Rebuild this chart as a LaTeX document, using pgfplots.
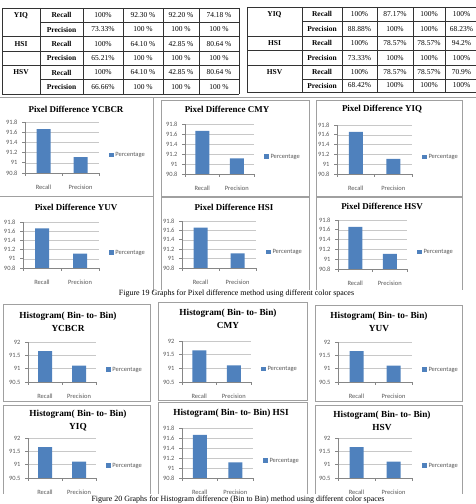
\documentclass[border=0pt]{standalone}
\usepackage{pgfplots}
\pgfplotsset{compat=1.18}
\usepackage{pgfplotstable}
\usepackage{fontspec}
\setmainfont{Liberation Serif}
\newfontfamily\carlito{Carlito}
\definecolor{barblue}{HTML}{4F81BD}
\definecolor{axgray}{HTML}{868686}
\definecolor{gridgray}{HTML}{C8C8C8}
\definecolor{lblgray}{HTML}{595959}
\definecolor{panelgray}{HTML}{A0A0A0}

\pgfplotstableread{
x y
0 91.66
1 91.11
}\prdata

\pgfplotsset{
  mini/.style={
    scale only axis, anchor=south west,
    xmin=-0.5, xmax=1.5,
    axis lines*=left,
    axis line style={draw=axgray, line width=0.6bp},
    tick align=outside,
    major tick length=3bp,
    xtick={0,1}, xticklabels={Recall,Precision},
    xtick style={draw=none},
    extra x ticks={-0.5,0.5,1.5},
    extra x tick labels={},
    extra x tick style={xtick style={draw=axgray, line width=0.6bp}, grid=none},
    ytick style={draw=axgray, line width=0.6bp},
    ymajorgrids, grid style={draw=gridgray, line width=0.5bp},
    ticklabel style={font=\carlito\fontsize{6.5}{7}\selectfont, text=lblgray},
    xticklabel style={yshift=-5.5bp},
    yticklabel style={xshift=-1bp},
    ybar, bar width=14bp,
    legend style={draw=none, fill=none, inner sep=0pt, outer sep=0pt,
      at={(1,0.5)}, anchor=west, xshift=10bp, yshift=-8bp,
      font=\carlito\fontsize{6.5}{7}\selectfont, text=lblgray},
    legend image code/.code={\fill[barblue] (0bp,-2bp) rectangle (4.5bp,2.5bp);},
  },
  pixr/.style={ymin=90.8, ymax=91.8, ytick={90.8,91,91.2,91.4,91.6,91.8},
    yticklabels={90.8,91,91.2,91.4,91.6,91.8}},
  histr/.style={ymin=90.5, ymax=92, ytick={90.5,91,91.5,92},
    yticklabels={90.5,91,91.5,92}},
}
\newcommand\bars{\addplot[fill=barblue, draw=none] table[x=x,y=y] {\prdata};\addlegendentry{Percentage}}

\begin{document}
\begin{tikzpicture}[x=1bp,y=1bp]
\useasboundingbox (0,0) rectangle (476,504);
% ---------------- tables ----------------
\begin{scope}[line width=0.9bp, draw=black!80]
% left table
\foreach \yy in {8,51,94} \draw (2,504-\yy) -- (239,504-\yy);
\foreach \yy in {22.3,36.6,65.3,79.6} \draw (40,504-\yy) -- (239,504-\yy);
\draw (2,504-36.6) -- (40,504-36.6);
\draw (2,504-65.3) -- (40,504-65.3);
\foreach \xx in {2,40,83,123,163,199,239} \draw (\xx,504-8) -- (\xx,504-94);
% right table
\foreach \yy in {7,50.5,92} \draw (247,504-\yy) -- (478,504-\yy);
\foreach \yy in {21.5,36,65,79} \draw (302,504-\yy) -- (478,504-\yy);
\draw (247,504-36) -- (302,504-36);
\draw (247,504-65) -- (302,504-65);
\foreach \xx in {247,302,342,377,413,445,477} \draw (\xx,504-7) -- (\xx,504-92);
\end{scope}
\begin{scope}[every node/.style={font=\fontsize{7.5}{8}\selectfont, inner sep=0pt}]
% left table text
\node[font=\fontsize{7.5}{8}\selectfont\bfseries] at (21,504-15.2) {YIQ};
\node[font=\fontsize{7.5}{8}\selectfont\bfseries] at (21,504-43.8) {HSI};
\node[font=\fontsize{7.5}{8}\selectfont\bfseries] at (21,504-72.5) {HSV};
\foreach \yy/\lab in {15.2/Recall,29.5/Precision,43.8/Recall,58.1/Precision,72.5/Recall,86.8/Precision}
  \node[font=\fontsize{7.5}{8}\selectfont\bfseries] at (61.5,504-\yy) {\lab};
\node at (103,504-15.2) {100\%}; \node at (143,504-15.2) {92.30 \%}; \node at (181,504-15.2) {92.20 \%}; \node at (219,504-15.2) {74.18 \%};
\node at (103,504-29.5) {73.33\%}; \node at (143,504-29.5) {100 \%}; \node at (181,504-29.5) {100 \%}; \node at (219,504-29.5) {100 \%};
\node at (103,504-43.8) {100\%}; \node at (143,504-43.8) {64.10 \%}; \node at (181,504-43.8) {42.85 \%}; \node at (219,504-43.8) {80.64 \%};
\node at (103,504-58.1) {65.21\%}; \node at (143,504-58.1) {100 \%}; \node at (181,504-58.1) {100 \%}; \node at (219,504-58.1) {100 \%};
\node at (103,504-72.5) {100\%}; \node at (143,504-72.5) {64.10 \%}; \node at (181,504-72.5) {42.85 \%}; \node at (219,504-72.5) {80.64 \%};
\node at (103,504-86.8) {66.66\%}; \node at (143,504-86.8) {100 \%}; \node at (181,504-86.8) {100 \%}; \node at (219,504-86.8) {100 \%};
% right table text
\node[font=\fontsize{7.5}{8}\selectfont\bfseries] at (274.5,504-14.2) {YIQ};
\node[font=\fontsize{7.5}{8}\selectfont\bfseries] at (274.5,504-43.2) {HSI};
\node[font=\fontsize{7.5}{8}\selectfont\bfseries] at (274.5,504-72) {HSV};
\foreach \yy/\lab in {14.2/Recall,28.7/Precision,43.2/Recall,57.7/Precision,72/Recall,85.5/Precision}
  \node[font=\fontsize{7.5}{8}\selectfont\bfseries] at (322,504-\yy) {\lab};
\node at (359.5,504-14.2) {100\%}; \node at (395,504-14.2) {87.17\%}; \node at (429,504-14.2) {100\%}; \node at (461.5,504-14.2) {100\%};
\node at (359.5,504-28.7) {88.88\%}; \node at (395,504-28.7) {100\%}; \node at (429,504-28.7) {100\%}; \node at (461.5,504-28.7) {68.23\%};
\node at (359.5,504-43.2) {100\%}; \node at (395,504-43.2) {78.57\%}; \node at (429,504-43.2) {78.57\%}; \node at (461.5,504-43.2) {94.2\%};
\node at (359.5,504-57.7) {73.33\%}; \node at (395,504-57.7) {100\%}; \node at (429,504-57.7) {100\%}; \node at (461.5,504-57.7) {100\%};
\node at (359.5,504-72) {100\%}; \node at (395,504-72) {78.57\%}; \node at (429,504-72) {78.57\%}; \node at (461.5,504-72) {70.9\%};
\node at (359.5,504-85.5) {68.42\%}; \node at (395,504-85.5) {100\%}; \node at (429,504-85.5) {100\%}; \node at (461.5,504-85.5) {100\%};
\end{scope}
% ---------------- panel borders ----------------
\begin{scope}[draw=panelgray, line width=0.7bp]
\draw (0,504-97.5) -- (476,504-97.5);
\draw (153,504-97.5) -- (153,504-292);
\draw (0,504-196) -- (153,504-196);
\draw (161,504-100) rectangle (309,504-196);
\draw (316,504-100) rectangle (462,504-196);
\draw (161,504-290) -- (161,504-197) -- (309,504-197) -- (309,504-290);
\draw (316,504-290) -- (316,504-197) -- (462,504-197) -- (462,504-290);
\draw (3,504-304) rectangle (150,504-401);
\draw (158,504-302) rectangle (307,504-400);
\draw (315,504-305) rectangle (462,504-401);
\draw (3,504-494) -- (3,504-405) -- (150,504-405) -- (150,504-494);
\draw (158,504-494) -- (158,504-402) -- (307,504-402) -- (307,504-494);
\draw (315,504-494) -- (315,504-405) -- (462,504-405) -- (462,504-494);
\end{scope}
% ---------------- titles ----------------
\begin{scope}[every node/.style={font=\fontsize{9}{12.5}\selectfont\bfseries, inner sep=0pt, align=center}]
\node at (76,504-109) {Pixel Difference YCBCR};
\node at (227,504-109) {Pixel Difference CMY};
\node at (382,504-109) {Pixel Difference YIQ};
\node at (76,504-207) {Pixel Difference YUV};
\node at (234,504-207) {Pixel Difference HSI};
\node at (382,504-206) {Pixel Difference HSV};
\node[font=\fontsize{9.3}{13}\selectfont\bfseries] at (68,504-321.5) {Histogram( Bin- to- Bin)\\YCBCR};
\node[font=\fontsize{9.3}{13}\selectfont\bfseries] at (228,504-319) {Histogram( Bin- to- Bin)\\CMY};
\node[font=\fontsize{9.3}{13}\selectfont\bfseries] at (379,504-321.5) {Histogram( Bin- to- Bin)\\YUV};
\node[font=\fontsize{9.3}{13}\selectfont\bfseries] at (78,504-420.5) {Histogram( Bin- to- Bin)\\YIQ};
\node[font=\fontsize{9.3}{13}\selectfont\bfseries] at (231,504-413) {Histogram( Bin- to- Bin) HSI};
\node[font=\fontsize{9.3}{13}\selectfont\bfseries] at (382,504-420.5) {Histogram( Bin- to- Bin)\\HSV};
\end{scope}
% ---------------- captions ----------------
\node[font=\fontsize{8}{9}\selectfont, inner sep=0pt] at (236.5,504-294) {Figure 19 Graphs for Pixel difference method using different color spaces};
\node[font=\fontsize{8}{9}\selectfont, inner sep=0pt] at (238,504-499.5) {Figure 20 Graphs for Histogram difference (Bin to Bin) method using different color spaces};
% ---------------- charts ----------------
\begin{axis}[mini, pixr, at={(25bp,331bp)}, width=74bp, height=51bp] \bars \end{axis}
\begin{axis}[mini, pixr, at={(185bp,330bp)}, width=69bp, height=50bp] \bars \end{axis}
\begin{axis}[mini, pixr, at={(337bp,330bp)}, width=75bp, height=49bp] \bars \end{axis}
\begin{axis}[mini, pixr, at={(23bp,236bp)}, width=76bp, height=46bp] \bars \end{axis}
\begin{axis}[mini, pixr, at={(182bp,236bp)}, width=74bp, height=47bp] \bars \end{axis}
\begin{axis}[mini, pixr, at={(338bp,235bp)}, width=69bp, height=49bp] \bars \end{axis}
\begin{axis}[mini, histr, at={(28bp,122bp)}, width=68bp, height=40bp] \bars \end{axis}
\begin{axis}[mini, histr, at={(182bp,122bp)}, width=69bp, height=41bp] \bars \end{axis}
\begin{axis}[mini, histr, at={(338bp,122bp)}, width=74bp, height=40bp] \bars \end{axis}
\begin{axis}[mini, histr, at={(28bp,26bp)}, width=68bp, height=40bp] \bars \end{axis}
\begin{axis}[mini, pixr, at={(182bp,26bp)}, width=71bp, height=50bp] \bars \end{axis}
\begin{axis}[mini, histr, at={(338bp,26bp)}, width=74bp, height=40bp] \bars \end{axis}
\end{tikzpicture}
\end{document}
